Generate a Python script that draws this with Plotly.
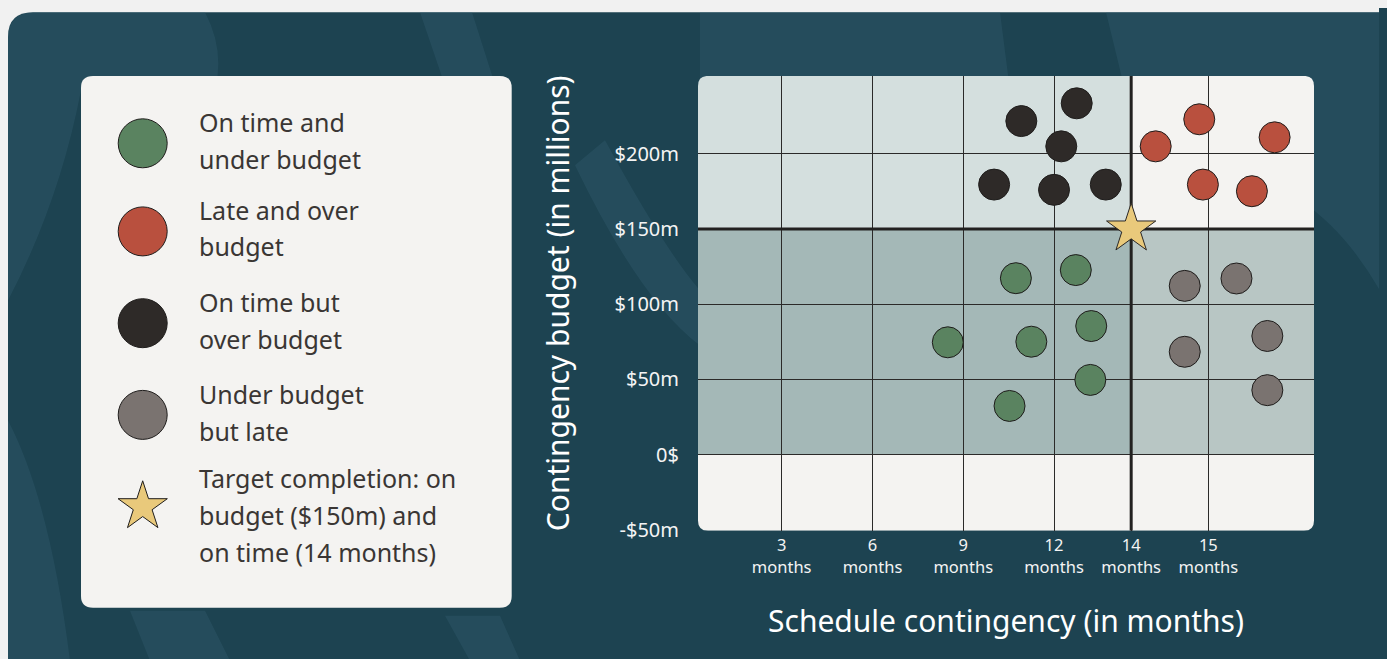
import plotly.graph_objects as go

# ---------------- data ----------------
x_tick_pos = [1, 2, 3, 4, 4.85, 5.70]
x_tick_labels = ["3<br>months", "6<br>months", "9<br>months", "12<br>months",
                 "14<br>months", "15<br>months"]
y_tick_vals = [-50, 0, 50, 100, 150, 200]
y_tick_labels = ["-$50m", "0$", "$50m", "$100m", "$150m", "$200m"]

green_x = [3.58, 4.24, 4.41, 2.83, 3.75, 4.40, 3.51]
green_y = [117.3, 122.7, 85.5, 74.7, 75.1, 49.7, 32.4]
red_x = [5.12, 5.60, 6.43, 5.64, 6.18]
red_y = [204.9, 222.9, 210.9, 179.5, 175.1]
black_x = [3.64, 4.25, 4.08, 3.34, 4.00, 4.57]
black_y = [221.7, 233.5, 204.9, 179.5, 176.0, 179.5]
gray_x = [5.44, 6.01, 5.44, 6.35, 6.35]
gray_y = [112.2, 117.1, 68.4, 78.9, 42.9]
target_x = [4.85]   # 14 months
target_y = [150]    # $150m

legend_labels = ["On time and<br>under budget", "Late and over<br>budget",
                 "On time but<br>over budget", "Under budget<br>but late",
                 "Target completion: on<br>budget ($150m) and<br>on time (14 months)"]

# ---------------- style ----------------
# Page layout: body keeps its default 8px margin; the captured page is a bit
# taller than the window, so vertical positions are stretched by SY.
PAGE_W, PAGE_H = 1387, 672
SY = PAGE_H / 659
OX, OY = 8, 8
W, H = PAGE_W - 2 * OX, PAGE_H - 2 * OY
FONT = "Noto Sans"
CARD = "#1d4351"
LIGHT = "#f1f1f1"
SWOOSH = "rgba(55,100,118,0.30)"
C_GREEN, C_RED, C_BLACK, C_GRAY, C_STAR = "#5a8360", "#b9503e", "#2e2a28", "#7a7370", "#e9c97b"
legend_colors = [C_GREEN, C_RED, C_BLACK, C_GRAY, C_STAR]
legend_symbols = ["circle", "circle", "circle", "circle", "star"]
legend_sizes = [49, 49, 49, 49, 37]
legend_marker_y = [143, 231, 322.7, 414.3, 506]
legend_text_y = [140, 227.5, 320, 411.7, 514.5]
LINE_GAP = 36.7

# plot area / legend box in reference pixels
PX0, PX1, PY0, PY1 = 698, 1314, 75.7, 530
LX0, LX1, LY0, LY1 = 81, 511.7, 75.7, 607
XR = [0.078, 6.864]
YR = [-50.5, 251.7]


def fx(px):
    return (px - OX) / W


def fy(py):
    return 1 - (py * SY - OY) / H


def pp(x, y):
    return f"{fx(x):.5f},{fy(y):.5f}"


def poly(*pts):
    return "M" + " L".join(pp(x, y) for x, y in pts) + " Z"


def rounded(x0, y0, x1, y1, rx, ry, tl=False, tr=False, br=False, bl=False):
    p = []
    p.append(f"M{x0},{y1-ry} Q{x0},{y1} {x0+rx},{y1}" if tl else f"M{x0},{y1}")
    p.append(f"L{x1-rx},{y1} Q{x1},{y1} {x1},{y1-ry}" if tr else f"L{x1},{y1}")
    p.append(f"L{x1},{y0+ry} Q{x1},{y0} {x1-rx},{y0}" if br else f"L{x1},{y0}")
    p.append(f"L{x0+rx},{y0} Q{x0},{y0} {x0},{y0+ry}" if bl else f"L{x0},{y0}")
    p.append("Z")
    return " ".join(p)


fig = go.Figure()

marker_line = dict(color="#1f1d1c", width=1)
for xs, ys, col in [(green_x, green_y, C_GREEN), (red_x, red_y, C_RED),
                    (black_x, black_y, C_BLACK), (gray_x, gray_y, C_GRAY)]:
    fig.add_trace(go.Scatter(x=xs, y=ys, mode="markers", showlegend=False,
                             marker=dict(size=31, color=col, opacity=1, line=marker_line),
                             hoverinfo="skip", cliponaxis=False))
fig.add_trace(go.Scatter(x=target_x, y=target_y, mode="markers", showlegend=False,
                         marker=dict(size=37, symbol="star", color=C_STAR, opacity=1,
                                     line=dict(color="#2a2725", width=1)),
                         hoverinfo="skip", cliponaxis=False))

# legend markers on a separate hidden subplot (reference-pixel units)
fig.add_trace(go.Scatter(x=[142.7] * len(legend_labels), y=legend_marker_y, mode="markers",
                         xaxis="x2", yaxis="y2", showlegend=False, hoverinfo="skip", cliponaxis=False,
                         marker=dict(size=legend_sizes, symbol=legend_symbols, color=legend_colors,
                                     opacity=1, line=dict(color="#1f1d1c", width=1))))

shapes = []
# outer card (extends past the right/bottom edges of the figure)
shapes.append(dict(type="path", xref="paper", yref="paper", layer="below",
                   path=rounded(fx(8), fy(720), fx(1420), fy(12), 25 / W, 25 / H, tl=True),
                   fillcolor=CARD, line=dict(width=0)))
# subtle lighter swooshes in the textured background
swooshes = [
    f"M{pp(575, 165)} Q{pp(640, 300)} {pp(700, 345)} L{pp(700, 290)} Q{pp(665, 250)} {pp(605, 140)} Z",
    (f"M{pp(8, 300)} L{pp(8, 35)} Q{pp(10, 12)} {pp(35, 12)} L{pp(205, 12)} "
     f"Q{pp(225, 50)} {pp(215, 90)} L{pp(81, 90)} Q{pp(60, 200)} {pp(8, 300)} Z"),
    poly((420, 12), (472, 12), (500, 100), (450, 100)),
    poly((700, 12), (1000, 12), (1010, 90), (700, 90)),
    f"M{pp(1106, 12)} L{pp(1400, 12)} L{pp(1400, 330)} Q{pp(1360, 240)} {pp(1300, 200)} L{pp(1125, 90)} Z",
    f"M{pp(8, 420)} Q{pp(50, 500)} {pp(70, 660)} L{pp(8, 660)} Z",
    poly((130, 610), (205, 610), (230, 660), (150, 660)),
    poly((445, 615), (500, 615), (520, 660), (470, 660)),
]
for s in swooshes:
    shapes.append(dict(type="path", xref="paper", yref="paper", layer="below", path=s,
                       fillcolor=SWOOSH, line=dict(width=0)))
# legend box
shapes.append(dict(type="path", xref="paper", yref="paper", layer="below",
                   path=rounded(fx(LX0), fy(LY1), fx(LX1), fy(LY0), 12 / W, 12 / H, True, True, True, True),
                   fillcolor="#f4f3f1", line=dict(width=0)))

# plot quadrants (data coordinates)
rx = 10 * (XR[1] - XR[0]) / (PX1 - PX0)
ry = 10 * (YR[1] - YR[0]) / (PY1 - PY0)
xm, ym = target_x[0], target_y[0]
quads = [
    (XR[0], ym, xm, YR[1], "#d4dfde", dict(tl=True)),
    (xm, ym, XR[1], YR[1], "#f4f3f1", dict(tr=True)),
    (XR[0], 0, xm, ym, "#a4b8b7", {}),
    (xm, 0, XR[1], ym, "#b8c6c4", {}),
    (XR[0], YR[0], XR[1], 0, "#f4f3f1", dict(bl=True, br=True)),
]
for x0, y0, x1, y1, col, corners in quads:
    shapes.append(dict(type="path", xref="x", yref="y", layer="below",
                       path=rounded(x0, y0, x1, y1, rx, ry, **corners),
                       fillcolor=col, line=dict(width=0)))
# thick target lines
shapes.append(dict(type="line", xref="x", yref="y", layer="between", x0=xm, x1=xm, y0=YR[0], y1=YR[1],
                   line=dict(color="#222120", width=3)))
shapes.append(dict(type="line", xref="x", yref="y", layer="between", x0=XR[0], x1=XR[1], y0=ym, y1=ym,
                   line=dict(color="#222120", width=3)))

annotations = []
for lab, cy in zip(legend_labels, legend_text_y):
    lines = lab.split("<br>")
    n = len(lines)
    for i, ln in enumerate(lines):
        annotations.append(dict(xref="x2", yref="y2", x=196.7, y=cy + (i - (n - 1) / 2) * LINE_GAP,
                                text=ln, showarrow=False, xanchor="left", yanchor="middle",
                                font=dict(family=FONT, size=25, color="#3a3634")))

fig.update_layout(
    width=W, height=H, margin=dict(l=0, r=0, t=0, b=0),
    paper_bgcolor=LIGHT, plot_bgcolor="rgba(0,0,0,0)",
    font=dict(family=FONT, color="#f4f4f4"),
    shapes=shapes, annotations=annotations,
    xaxis=dict(domain=[fx(PX0), fx(PX1)], range=XR, tickmode="array", tickvals=x_tick_pos,
               ticktext=x_tick_labels, showgrid=True, gridcolor="#2b2a29", gridwidth=1.2,
               zeroline=False, showline=False, ticks="", ticklabelstandoff=3,
               tickfont=dict(family=FONT, size=16.5, color="#f4f4f4"),
               title=dict(text="Schedule contingency (in months)", standoff=34,
                          font=dict(family=FONT, size=30, color="#ffffff"))),
    yaxis=dict(domain=[fy(PY1), fy(PY0)], range=YR, tickmode="array", tickvals=y_tick_vals,
               ticktext=y_tick_labels, showgrid=True, gridcolor="#2b2a29", gridwidth=1.2,
               zeroline=False, showline=False, ticks="", ticklabelstandoff=18,
               tickfont=dict(family=FONT, size=20, color="#f4f4f4"),
               title=dict(text="Contingency budget (in millions)", standoff=36,
                          font=dict(family=FONT, size=30, color="#ffffff"))),
    xaxis2=dict(domain=[fx(LX0), fx(LX1)], range=[LX0, LX1], visible=False, fixedrange=True),
    yaxis2=dict(domain=[fy(LY1), fy(LY0)], range=[LY1, LY0], visible=False, fixedrange=True),
)

page_bg = (f"linear-gradient({LIGHT},{LIGHT}) 0 0/100% {OY}px no-repeat,"
           f"linear-gradient({LIGHT},{LIGHT}) 0 0/{OX}px 100% no-repeat,{CARD}")
fig.write_html("out.html", config={"displayModeBar": False},
               post_script=f"document.body.style.background='{page_bg}';")
